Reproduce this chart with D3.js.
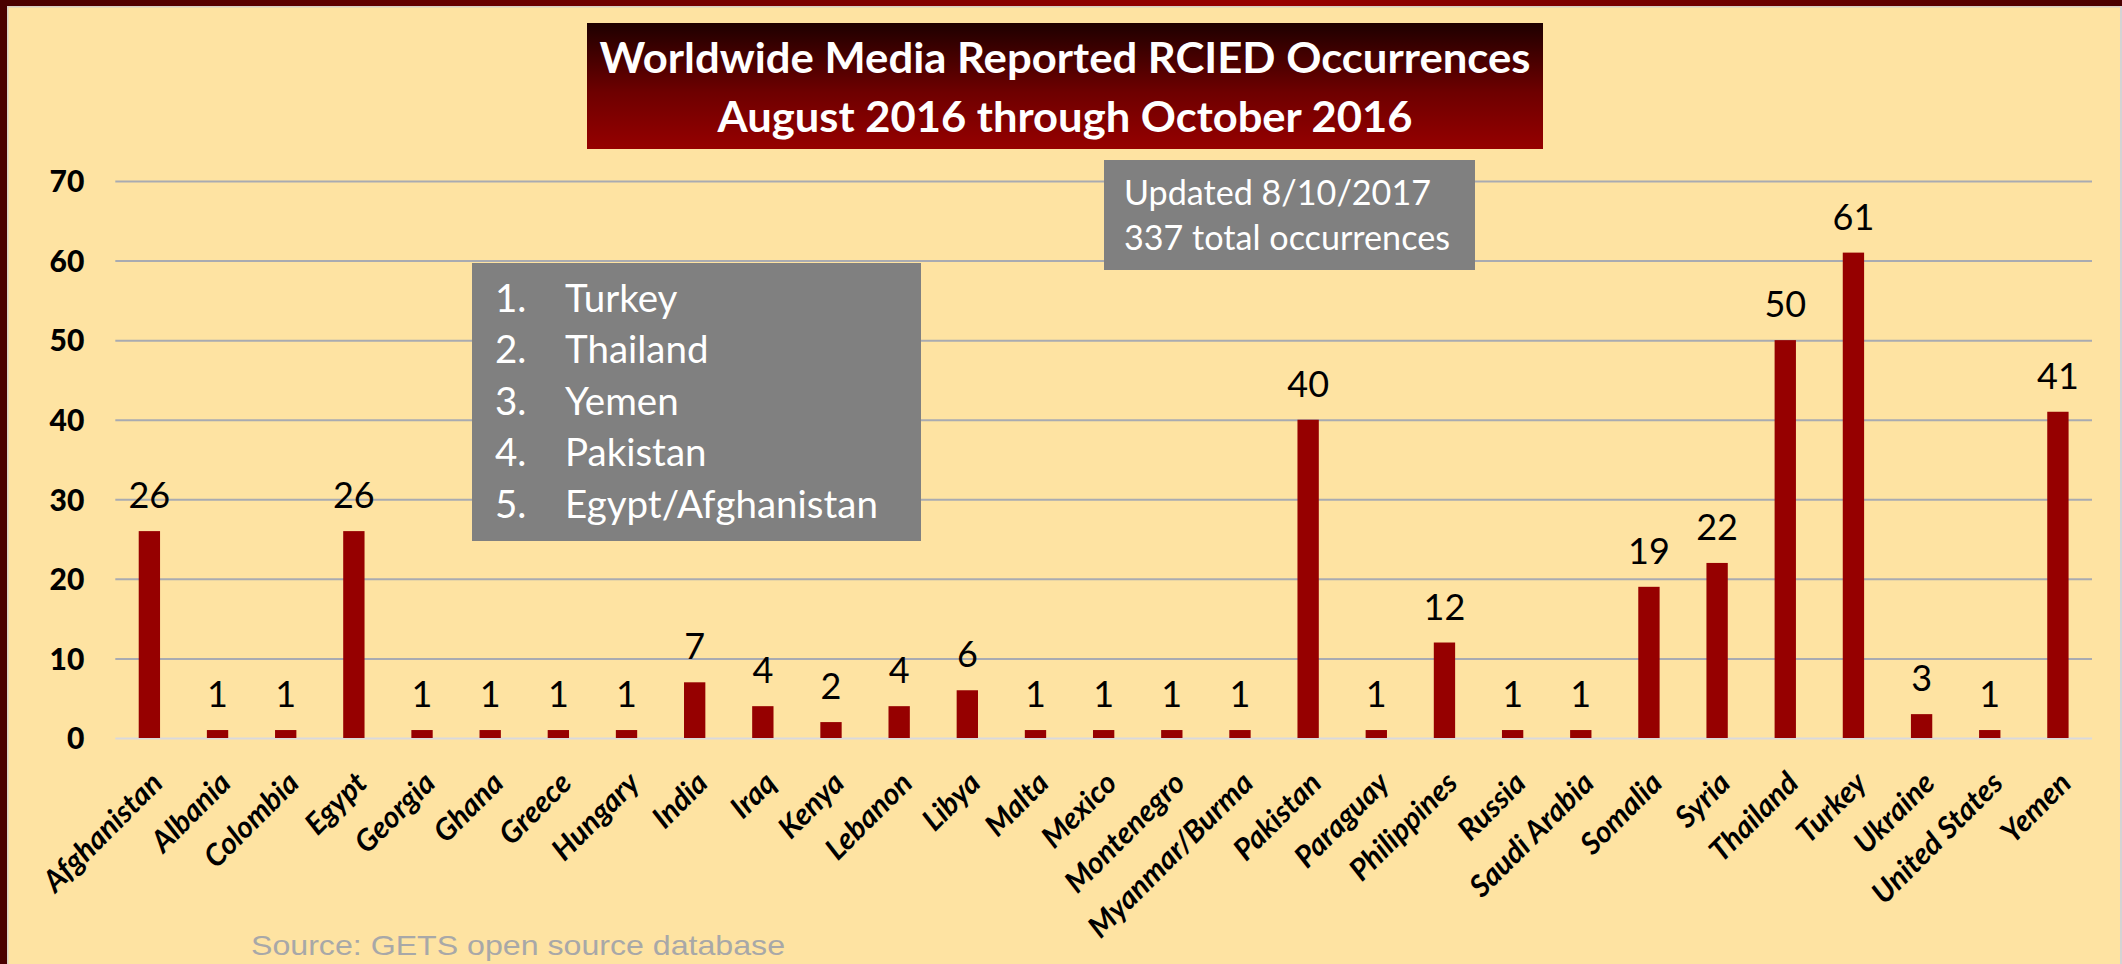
<!DOCTYPE html>
<html>
<head>
<meta charset="utf-8">
<script src="https://cdn.jsdelivr.net/npm/d3@7"></script>
<style>
  html, body { margin: 0; padding: 0; background: #fee3a2; }
  svg { display: block; }
</style>
</head>
<body>
<svg id="chart" width="2122" height="964"></svg>
<script>
// ---------------- DATA ----------------
const categories = ["Afghanistan","Albania","Colombia","Egypt","Georgia","Ghana","Greece","Hungary","India","Iraq","Kenya","Lebanon","Libya","Malta","Mexico","Montenegro","Myanmar/Burma","Pakistan","Paraguay","Philippines","Russia","Saudi Arabia","Somalia","Syria","Thailand","Turkey","Ukraine","United States","Yemen"];
const values = [26,1,1,26,1,1,1,1,7,4,2,4,6,1,1,1,1,40,1,12,1,1,19,22,50,61,3,1,41];
const yTicks = [0,10,20,30,40,50,60,70];
const titleLines = ["Worldwide Media Reported RCIED Occurrences","August 2016 through October 2016"];
const rankNumbers = ["1.","2.","3.","4.","5."];
const rankItems = ["Turkey","Thailand","Yemen","Pakistan","Egypt/Afghanistan"];
const noteLines = ["Updated 8/10/2017","337 total occurrences"];
const sourceText = "Source: GETS open source database";

// ---------------- LAYOUT ----------------
const W = 2122, H = 964;
const plotLeft = 115.3, plotRight = 2092, yZero = 738, yTop = 181;
const svg = d3.select("#chart");
const defs = svg.append("defs");

// background
svg.append("rect").attr("x",0).attr("y",0).attr("width",W).attr("height",H).attr("fill","#fee3a2");

// frame
const topGrad = defs.append("linearGradient").attr("id","topGrad").attr("x1","0").attr("x2","1").attr("y1","0").attr("y2","0");
topGrad.append("stop").attr("offset","0").attr("stop-color","#4a0000");
topGrad.append("stop").attr("offset","0.6").attr("stop-color","#980000");
topGrad.append("stop").attr("offset","1").attr("stop-color","#4a0000");
svg.append("rect").attr("x",0).attr("y",0).attr("width",W).attr("height",6).attr("fill","url(#topGrad)");
svg.append("rect").attr("x",0).attr("y",6).attr("width",W).attr("height",1.5).attr("fill","#d6d0c4");
svg.append("rect").attr("x",0).attr("y",0).attr("width",7).attr("height",H).attr("fill","#4a0000");
svg.append("rect").attr("x",7).attr("y",6).attr("width",1.5).attr("height",H).attr("fill","#d6d0c4");
svg.append("rect").attr("x",W-2).attr("y",6).attr("width",2).attr("height",H).attr("fill","#d4d4d4");

// scales
const x = d3.scaleBand().domain(categories).range([plotLeft, plotRight]).paddingInner(0.687).paddingOuter(0.3435);
const y = d3.scaleLinear().domain([0,70]).range([yZero, yTop]);

// gridlines + y labels via axis
const yAxis = d3.axisLeft(y).tickValues(yTicks).tickSize(-(plotRight - plotLeft)).tickPadding(31).tickFormat(d3.format("d"));
const gy = svg.append("g").attr("transform", `translate(${plotLeft},0)`).call(yAxis);
gy.select(".domain").remove();
gy.selectAll(".tick line").attr("stroke", d => d === 0 ? "#d9d9dc" : "#a9abb1").attr("stroke-width", 2);
gy.selectAll(".tick text")
  .attr("fill","#000").attr("font-family","Lato, 'Open Sans', sans-serif").attr("font-weight","900")
  .attr("font-size",30).attr("dy","0.36em");

// bars
svg.append("g").selectAll("rect").data(values).join("rect")
  .attr("x", (d,i) => x(categories[i]))
  .attr("y", d => y(d))
  .attr("width", x.bandwidth())
  .attr("height", d => y(0) - y(d))
  .attr("fill", "#960000");

// value labels
svg.append("g").selectAll("text").data(values).join("text")
  .attr("x", (d,i) => x(categories[i]) + x.bandwidth()/2)
  .attr("y", d => y(d) - 23)
  .attr("text-anchor","middle")
  .attr("font-family","Lato, 'Open Sans', sans-serif")
  .attr("font-size",36)
  .attr("fill","#000")
  .text(d => d);

// category labels via axis
const xAxis = d3.axisBottom(x).tickSize(0).tickPadding(0);
const gx = svg.append("g").attr("transform", `translate(0,${yZero})`).call(xAxis);
gx.select(".domain").remove();
gx.selectAll(".tick text")
  .attr("font-family","Lato, 'Open Sans', sans-serif")
  .attr("font-weight","bold").attr("font-style","italic")
  .attr("font-size",30).attr("fill","#000")
  .attr("text-anchor","end")
  .attr("dy",0)
  .attr("y",0)
  .attr("transform","translate(15,47) rotate(-45)");

// title box
const tGrad = defs.append("linearGradient").attr("id","titleGrad").attr("x1","0").attr("x2","0").attr("y1","0").attr("y2","1");
tGrad.append("stop").attr("offset","0").attr("stop-color","#1e0000");
tGrad.append("stop").attr("offset","0.55").attr("stop-color","#6e0000");
tGrad.append("stop").attr("offset","1").attr("stop-color","#960000");
svg.append("rect").attr("x",587).attr("y",23).attr("width",956).attr("height",126).attr("fill","url(#titleGrad)");
const titleWidths = [931, 695];
const titleBase = [72.5, 131.5];
svg.append("g").selectAll("text").data(titleLines).join("text")
  .attr("x",1065).attr("y",(d,i)=>titleBase[i])
  .attr("text-anchor","middle")
  .attr("font-family","Lato, 'Open Sans', sans-serif").attr("font-weight","bold")
  .attr("font-size",42).attr("fill","#fff")
  .attr("textLength",(d,i)=>titleWidths[i]).attr("lengthAdjust","spacingAndGlyphs")
  .text(d=>d);

// ranking box
svg.append("rect").attr("x",472).attr("y",263).attr("width",449).attr("height",278).attr("fill","#808080");
const rankG = svg.append("g");
const rankBase = i => 311.7 + i*51.5;
const nums = rankG.selectAll("text.num").data(rankNumbers).join("text").attr("class","num")
  .attr("x",495).attr("y",(d,i)=>rankBase(i))
  .attr("font-family","Lato, 'Open Sans', sans-serif").attr("font-size",34).attr("fill","#fff")
  .text(d=>d);
const items = rankG.selectAll("text.item").data(rankItems).join("text").attr("class","item")
  .attr("x",565).attr("y",(d,i)=>rankBase(i))
  .attr("font-family","Lato, 'Open Sans', sans-serif").attr("font-size",34).attr("fill","#fff")
  .text(d=>d);
(function(){
  const n = items.filter(d => d === "Egypt/Afghanistan").node();
  const w = n.getComputedTextLength();
  if (w > 0) { const fs = 34 * 313 / w; items.attr("font-size", fs); nums.attr("font-size", fs); }
})();

// note box
svg.append("rect").attr("x",1104).attr("y",160).attr("width",371).attr("height",110).attr("fill","#808080");
const notes = svg.append("g").selectAll("text").data(noteLines).join("text")
  .attr("x",1124).attr("y",(d,i)=>205 + i*45)
  .attr("font-family","Lato, 'Open Sans', sans-serif").attr("font-size",31).attr("fill","#fff")
  .text(d=>d);
(function(){
  const n = notes.filter(d => d === "337 total occurrences").node();
  const w = n.getComputedTextLength();
  if (w > 0) notes.attr("font-size", 31 * 326 / w);
})();

// source
svg.append("text").attr("x",251).attr("y",955)
  .attr("font-family","'Liberation Sans', Arial, sans-serif").attr("font-size",28)
  .attr("fill","#a8a8a8").attr("textLength",534).attr("lengthAdjust","spacingAndGlyphs")
  .text(sourceText);
</script>
</body>
</html>
